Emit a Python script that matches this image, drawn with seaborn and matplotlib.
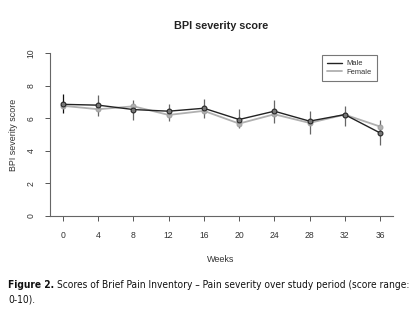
import numpy as np
import pandas as pd
import matplotlib
matplotlib.use("Agg")
import matplotlib.pyplot as plt
import seaborn as sns
from matplotlib.lines import Line2D

weeks = [0, 4, 8, 12, 16, 20, 24, 28, 32, 36]
male = [6.85, 6.80, 6.53, 6.43, 6.61, 5.92, 6.43, 5.82, 6.22, 5.10]
female = [6.76, 6.55, 6.73, 6.20, 6.45, 5.67, 6.24, 5.71, 6.22, 5.49]
err_low = [6.29, 6.12, 5.90, 5.84, 6.04, 5.37, 5.71, 5.02, 5.53, 4.35]
err_high = [7.47, 7.41, 7.10, 6.86, 7.20, 6.55, 7.10, 6.45, 6.76, 5.92]
yticks = [0, 2, 4, 6, 8, 10]

sns.set_theme(style="white")
plt.rcParams['font.family'] = ['Liberation Sans', 'DejaVu Sans']

W, H = 415, 323
fig = plt.figure(figsize=(W / 100, H / 100), dpi=100)
ax = fig.add_axes([50 / W, (H - 216) / H, (393 - 50) / W, (216 - 53) / H])

df = pd.DataFrame({
    "Weeks": weeks * 2,
    "score": male + female,
    "sex": ["Male"] * len(weeks) + ["Female"] * len(weeks),
})

ecolors = ["#111111"] + ["#666666"] * (len(weeks) - 1)
ax.vlines(weeks, err_low, err_high, colors=ecolors, linewidth=0.9, zorder=1)

sns.lineplot(data=df[df.sex == "Female"], x="Weeks", y="score", ax=ax,
             color="#b0b0b0", linewidth=1.3, marker="o", markersize=3.5,
             markerfacecolor="#b0b0b0", markeredgecolor="#a0a0a0", zorder=2,
             legend=False)
sns.lineplot(data=df[df.sex == "Male"], x="Weeks", y="score", ax=ax,
             color="#222222", linewidth=1.0, marker="o", markersize=3.5,
             markerfacecolor="#777777", markeredgecolor="#222222", zorder=3,
             legend=False)

ax.set_xlim(-1.48, 37.48)
ax.set_ylim(0, 10)
ax.set_xticks(weeks)
ax.set_xticklabels([str(w) for w in weeks], fontsize=6.2, color="#333333")
ax.set_yticks(yticks)
ax.set_yticklabels([str(t) for t in yticks], fontsize=6.2, color="#333333",
                   rotation=90, va="center")
ax.tick_params(axis="both", which="both", direction="out", length=3.5,
               width=0.7, color="#555555", pad=7, left=True, bottom=True)
ax.tick_params(axis="x", pad=7)
for s in ["top", "right"]:
    ax.spines[s].set_visible(False)
for s in ["left", "bottom"]:
    ax.spines[s].set_color("#666666")
    ax.spines[s].set_linewidth(0.8)
ax.set_xlabel("")
ax.set_ylabel("")
ax.grid(False)
ax.set_facecolor("white")

fig.text(221 / W, 1 - 260 / H, "Weeks", fontsize=6.5, color="#333333",
         ha="center", va="center")
fig.text(14 / W, 1 - 135 / H, "BPI severity score", fontsize=6.4,
         color="#333333", ha="center", va="center", rotation=90)
fig.text(221 / W, 1 - 26 / H, "BPI severity score", fontsize=7.8,
         fontweight="bold", color="#222222", ha="center", va="center")

handles = [Line2D([], [], color="#222222", lw=1.0),
           Line2D([], [], color="#b0b0b0", lw=1.3)]
leg = ax.legend(handles, ["Male", "Female"], loc="upper left",
                bbox_to_anchor=((322 - 50) / (393 - 50), 1 - (55 - 53) / (216 - 53)),
                fontsize=5.4, frameon=True, fancybox=False, handlelength=2.0,
                handletextpad=0.6, borderpad=0.7, labelspacing=0.15,
                borderaxespad=0)
leg.get_frame().set_edgecolor("#555555")
leg.get_frame().set_linewidth(0.8)
for t in leg.get_texts():
    t.set_color("#333333")

# caption (condensed look, fitted to the width of the reference caption)
cap1 = "Figure 2."
cap2 = "Scores of Brief Pain Inventory \u2013 Pain severity over study period (score range:"
cap3 = "0-10)."
fs = 8.0
kw = dict(family=['DejaVu Sans'], stretch='condensed', color="#111111",
          va="center")
t1 = fig.text(8 / W, 1 - 285 / H, cap1, fontsize=fs, fontweight="bold",
              ha="left", **kw)
t2 = fig.text(0, 1 - 285 / H, cap2, fontsize=fs, ha="left", **kw)
t3 = fig.text(8 / W, 1 - 300 / H, cap3, fontsize=fs, ha="left", **kw)
fig.canvas.draw()
r = fig.canvas.get_renderer()
w1 = t1.get_window_extent(r).width
w2 = t2.get_window_extent(r).width
scale = (405 - 8 - 3) / (w1 + w2)
if scale < 1:
    fs = fs * scale
    for t in (t1, t2, t3):
        t.set_fontsize(fs)
    fig.canvas.draw()
bb = t1.get_window_extent(r)
t2.set_x((bb.x1 + 3) / W)

fig.savefig("out.png", dpi=100)
